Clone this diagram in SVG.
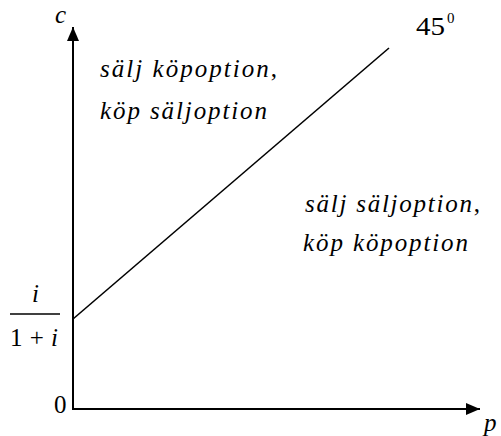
<svg xmlns="http://www.w3.org/2000/svg" width="501" height="436" viewBox="0 0 501 436">
<defs>
<marker id="ah" markerWidth="14" markerHeight="12" refX="14" refY="6" orient="auto" markerUnits="userSpaceOnUse">
<path d="M0,0 L14,6 L0,12 Z" fill="#000"/>
</marker>
</defs>
<rect width="501" height="436" fill="#fff"/>
<g id="connectors" stroke="#000" fill="none">
<line x1="73" y1="410" x2="73" y2="27" stroke-width="2" marker-end="url(#ah)"/>
<line x1="72" y1="409" x2="480" y2="409" stroke-width="2" marker-end="url(#ah)"/>
<line x1="73" y1="319" x2="389" y2="48" stroke-width="1.6"/>
</g>
<g id="labels" font-family="'Liberation Serif', 'Times New Roman', serif" fill="#000">
<text font-style="italic" x="55" y="23" font-size="25">c</text>
<text font-style="italic" x="484" y="431" font-size="25">p</text>
<text x="54" y="413" font-size="25">0</text>
<text x="416" y="35" font-size="25" textLength="29" lengthAdjust="spacingAndGlyphs">45</text>
<text x="447" y="23" font-size="15">0</text>
<text font-style="italic" x="32" y="302" font-size="25">i</text>
<line x1="10" y1="314" x2="60" y2="314" stroke="#000" stroke-width="1.5"/>
<text x="10" y="346" font-size="25" textLength="48" lengthAdjust="spacing">1<tspan>+</tspan><tspan font-style="italic">i</tspan></text>
</g>
<g id="region-upper" font-family="'Liberation Serif', 'Times New Roman', serif" fill="#000" font-size="25">
<text font-style="italic" x="100" y="77" textLength="177" lengthAdjust="spacing">sälj köpoption<tspan font-style="normal">,</tspan></text>
<text font-style="italic" x="100" y="119" textLength="167" lengthAdjust="spacing">köp säljoption</text>
</g>
<g id="region-lower" font-family="'Liberation Serif', 'Times New Roman', serif" fill="#000" font-size="25">
<text font-style="italic" x="305" y="212" textLength="175" lengthAdjust="spacing">sälj säljoption<tspan font-style="normal">,</tspan></text>
<text font-style="italic" x="303" y="251" textLength="165" lengthAdjust="spacing">köp köpoption</text>
</g>
</svg>
